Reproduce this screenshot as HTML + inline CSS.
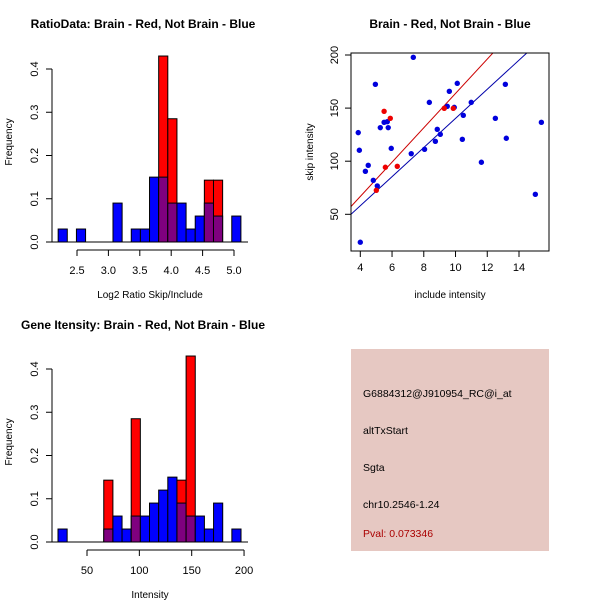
<!DOCTYPE html>
<html><head><meta charset="utf-8"><style>
body{margin:0;background:#fff}
svg{display:block;font-family:"Liberation Sans",sans-serif}
</style></head><body>
<svg id="c" width="600" height="600" viewBox="0 0 600 600"></svg>
<script>
// Histogram 1: ratio
const ratioBinStart = 2.2;
const ratioBinWidth = 0.1455;
const ratioBlue = [0.03,0,0.03,0,0,0,0.09,0,0.03,0.03,0.15,0.15,0.09,0.09,0.03,0.06,0.09,0.06,0,0.06];
const ratioRed  = [0,0,0,0,0,0,0,0,0,0,0,0.43,0.285,0,0,0,0.143,0.143,0,0];
const ratioXTicks = [2.5,3.0,3.5,4.0,4.5,5.0];
const freqTicks = [0,0.1,0.2,0.3,0.4];
// Histogram 2: intensity
const intBinStart = 22.3;
const intBinWidth = 8.74;
const intBlue = [0.03,0,0,0,0,0.03,0.06,0.03,0.06,0.06,0.09,0.12,0.15,0.09,0.06,0.06,0.03,0.09,0,0.03];
const intRed  = [0,0,0,0,0,0.143,0,0,0.285,0,0,0,0,0.143,0.43,0,0,0,0,0];
const intXTicks = [50,100,150,200];
// Scatter
const blueX = [3.87,3.94,4.0,4.32,4.5,4.82,5.07,4.95,5.26,5.5,5.7,5.76,5.95,7.34,7.21,8.05,8.35,8.73,8.85,9.04,9.48,9.61,9.92,10.11,10.43,10.49,10.99,11.63,12.51,13.14,13.2,15.03,15.41];
const blueY = [126.9,110.3,23.7,90.5,96.1,82,76.7,172.4,131.6,136.6,137.2,131.6,112.1,197.8,107.1,111.2,155.4,118.7,130,125.3,151.7,165.8,150.7,173.3,120.6,143.2,155.4,99,140.4,172.4,121.6,68.8,136.6];
const redX = [5.5,5.89,5.58,6.33,5.01,9.29,9.86];
const redY = [147,140.4,94.3,95.2,72.6,149.8,149.8];
const redLine = [2.1,16.17];   // intercept, slope
const blueLine = [3.2,13.71];
const scXTicks = [4,6,8,10,12,14];
const scYTicks = [50,100,150,200];

const svg = document.getElementById('c');
const NS = 'http://www.w3.org/2000/svg';
function mk(tag, attrs, parent){const e=document.createElementNS(NS,tag);for(const k in attrs)e.setAttribute(k,attrs[k]);(parent||svg).appendChild(e);return e;}
function txt(s,x,y,attrs,parent){const e=mk('text',Object.assign({x:x,y:y,'text-anchor':'middle','font-size':11},attrs),parent);e.textContent=s;return e;}

function hist(cfg){
  const g=mk('g',{});
  
  
  const sx=v=>cfg.x0+(v-cfg.xv0)*cfg.kx;
  const sy=v=>cfg.y0-v*cfg.ky;
  const n=cfg.blue.length;
  for(let i=0;i<n;i++){
    const a=cfg.start+i*cfg.w, b=a+cfg.w;
    const x=sx(a), wd=sx(b)-sx(a);
    const r=cfg.red[i], bl=cfg.blue[i];
    if(r>0){const e=mk('rect',{x:x,y:sy(r),width:wd,height:sy(0)-sy(r),fill:'#ff0000',stroke:'#000','stroke-width':1},g);
      }
    if(bl>0){const e=mk('rect',{x:x,y:sy(bl),width:wd,height:sy(0)-sy(bl),fill:r>0?'#7f007f':'#0000ff',stroke:'#000','stroke-width':1},g);
      }
  }
  mk('line',{x1:cfg.baseL,x2:cfg.baseR,y1:sy(0),y2:sy(0),stroke:'#000'},g);
  // x axis
  const ax=mk('g',{},g);
  const t0=cfg.xticks[0],t1=cfg.xticks[cfg.xticks.length-1];
  mk('line',{x1:sx(t0),x2:sx(t1),y1:cfg.axY,y2:cfg.axY,stroke:'#000'},ax);
  cfg.xticks.forEach(t=>{mk('line',{x1:sx(t),x2:sx(t),y1:cfg.axY,y2:cfg.axY+6,stroke:'#000'},ax);
    txt(cfg.fmt(t),sx(t),cfg.axY+24,{},ax);});
  // y axis
  const ay=mk('g',{},g);
  mk('line',{x1:cfg.yAxX,x2:cfg.yAxX,y1:sy(0),y2:sy(0.4),stroke:'#000'},ay);
  freqTicks.forEach(t=>{mk('line',{x1:cfg.yAxX-6,x2:cfg.yAxX,y1:sy(t),y2:sy(t),stroke:'#000'},ay);
    txt(t.toFixed(1),cfg.yAxX-14,sy(t),{transform:`rotate(-90 ${cfg.yAxX-14} ${sy(t)})`},ay);});
  const tt=txt(cfg.title,143,cfg.titleY,{'font-weight':'bold','font-size':12},g);
  
  const xl=txt(cfg.xlabel,150,cfg.xlabY,{'font-size':10},g);
  
  const yl=txt('Frequency',12,cfg.yLabY,{'font-size':10,transform:`rotate(-90 12 ${cfg.yLabY})`},g);
  
}

hist({name:'ratio-histogram',start:ratioBinStart,w:ratioBinWidth,blue:ratioBlue,red:ratioRed,xticks:ratioXTicks,
  x0:77,xv0:2.5,kx:62.8,y0:242,ky:432.5,baseL:52,baseR:248,axY:250,yAxX:52,fmt:t=>t.toFixed(1),
  title:'RatioData: Brain - Red, Not Brain - Blue',titleY:28,xlabel:'Log2 Ratio Skip/Include',xlabY:298,yLabY:142});
hist({name:'intensity-histogram',start:intBinStart,w:intBinWidth,blue:intBlue,red:intRed,xticks:intXTicks,
  x0:87,xv0:50,kx:1.047,y0:542,ky:432.5,baseL:52,baseR:248,axY:550,yAxX:52,fmt:t=>String(t),
  title:'Gene Itensity: Brain - Red, Not Brain - Blue',titleY:329,xlabel:'Intensity',xlabY:598,yLabY:442});

// Scatter
(function(){
  const g=mk('g',{});
  
  
  const L=351,R=549,T=53,B=251;
  const sx=v=>360.3+(v-4)*15.87;
  const sy=v=>55+(200-v)*1.062;
  const dx=v=>4+(v-360.3)/15.87;
  const defs=mk('defs',{},g);const cp=mk('clipPath',{id:'clip'},defs);mk('rect',{x:L,y:T,width:R-L,height:B-T},cp);
  const pg=mk('g',{'clip-path':'url(#clip)'},g);
  [[redLine,'#cc0000','red-regression-line'],[blueLine,'#0000aa','blue-regression-line']].forEach(([ln,c,nm])=>{
    const x1=dx(L),x2=dx(R);
    const e=mk('line',{x1:L,x2:R,y1:sy(ln[0]+ln[1]*x1),y2:sy(ln[0]+ln[1]*x2),stroke:c,'stroke-width':1},pg);
    
  });
  blueX.forEach((x,i)=>{const e=mk('circle',{cx:sx(x),cy:sy(blueY[i]),r:2.7,fill:'#0000dd'},pg);
    });
  redX.forEach((x,i)=>{const e=mk('circle',{cx:sx(x),cy:sy(redY[i]),r:2.7,fill:'#ee0000'},pg);
    });
  mk('rect',{x:L,y:T,width:R-L,height:B-T,fill:'none',stroke:'#000'},g);
  scXTicks.forEach(t=>{mk('line',{x1:sx(t),x2:sx(t),y1:B,y2:B+6,stroke:'#000'},g);txt(String(t),sx(t),B+20,{},g);});
  scYTicks.forEach(t=>{mk('line',{x1:L-6,x2:L,y1:sy(t),y2:sy(t),stroke:'#000'},g);
    txt(String(t),L-13,sy(t),{transform:`rotate(-90 ${L-13} ${sy(t)})`},g);});
  const tt=txt('Brain - Red, Not Brain - Blue',450,28,{'font-weight':'bold','font-size':12},g);
  
  const xl=txt('include intensity',450,298,{'font-size':10},g);
  
  const yl=txt('skip intensity',313,152,{'font-size':10,transform:'rotate(-90 313 152)'},g);
  
})();

// Info panel
(function(){
  const g=mk('g',{});
  
  
  mk('rect',{x:351,y:349,width:198,height:202,fill:'#e6c8c2'},g);
  const lines=[['G6884312@J910954_RC@i_at',397,'#000','probe-id'],['altTxStart',434,'#000','event-type'],['Sgta',471,'#000','gene-name'],['chr10.2546-1.24',508,'#000','location'],['Pval: 0.073346',537,'#aa0000','p-value']];
  lines.forEach(([s,y,c,nm])=>{const e=txt(s,363,y,{'text-anchor':'start','font-size':10.5,fill:c},g);
    });
})();
</script>
</body></html>
